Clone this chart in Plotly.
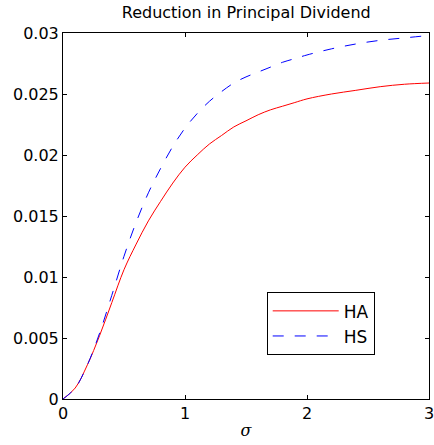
import plotly.graph_objects as go

sigma = [0, 0.1, 0.2, 0.3, 0.4, 0.5, 0.6, 0.7, 0.8, 0.9, 1.0, 1.1, 1.2, 1.3, 1.4, 1.5, 1.6, 1.7, 1.8, 1.9, 2.0, 2.2, 2.4, 2.6, 2.8, 3.0]
ha = [0, 0.0009, 0.0028, 0.0052, 0.0079, 0.0106, 0.0127, 0.0146, 0.0162, 0.0177, 0.0190, 0.0200, 0.0209, 0.0216, 0.0223, 0.0228, 0.0233, 0.0237, 0.0240, 0.0243, 0.0246, 0.0250, 0.0253, 0.0256, 0.0258, 0.0259]
hs = [0, 0.0009, 0.0028, 0.0054, 0.0085, 0.0117, 0.0145, 0.0169, 0.0189, 0.0207, 0.0222, 0.0234, 0.0244, 0.0252, 0.0259, 0.0264, 0.0268, 0.0272, 0.0276, 0.0279, 0.0282, 0.0287, 0.0291, 0.0294, 0.0296, 0.0298]

x_ticks = [0, 1, 2, 3]
y_ticks = [0, 0.005, 0.01, 0.015, 0.02, 0.025, 0.03]
y_tick_labels = ["0", "0.005", "0.01", "0.015", "0.02", "0.025", "0.03"]

FONT = "DejaVu Sans"

fig = go.Figure()
fig.add_trace(go.Scatter(x=sigma, y=ha, mode="lines", name="HA",
                         line=dict(color="#ff0000", width=1, shape="spline", smoothing=1)))
fig.add_trace(go.Scatter(x=sigma, y=hs, mode="lines", name="HS",
                         line=dict(color="#0000ff", width=1, dash="11px,11px", shape="spline", smoothing=1)))

axis_common = dict(showline=True, linecolor="black", linewidth=1, mirror="allticks",
                   ticks="inside", ticklen=4, tickcolor="black", tickwidth=1,
                   showgrid=False, zeroline=False, automargin=False,
                   ticklabeloverflow="allow",
                   tickfont=dict(family=FONT, size=16, color="black"))

fig.update_layout(
    width=434, height=445,
    margin=dict(l=63, r=5, t=33, b=46),
    paper_bgcolor="white", plot_bgcolor="white",
    title=dict(text="Reduction in Principal Dividend", x=(63 + 429.5) / 2 / 434, xanchor="center",
               y=1 - 12 / 445, yanchor="middle",
               font=dict(family=FONT, size=16, color="black")),
    xaxis=dict(range=[0, 3], tickvals=x_ticks,
               title=dict(text="<i>σ</i>", font=dict(family="DejaVu Serif", size=16, color="black"), standoff=2),
               **axis_common),
    yaxis=dict(range=[0, 0.03], tickvals=y_ticks, ticktext=y_tick_labels, **axis_common),
    showlegend=True,
    legend=dict(x=0.5566, y=0.2915, xanchor="left", yanchor="top",
                bgcolor="white", bordercolor="black", borderwidth=1,
                font=dict(family=FONT, size=17, color="black"),
                itemwidth=66, tracegroupgap=0),
)

fig.write_html("out.html", config={"displayModeBar": False},
               post_script="document.body.style.margin='0';document.body.style.overflow='hidden';")
